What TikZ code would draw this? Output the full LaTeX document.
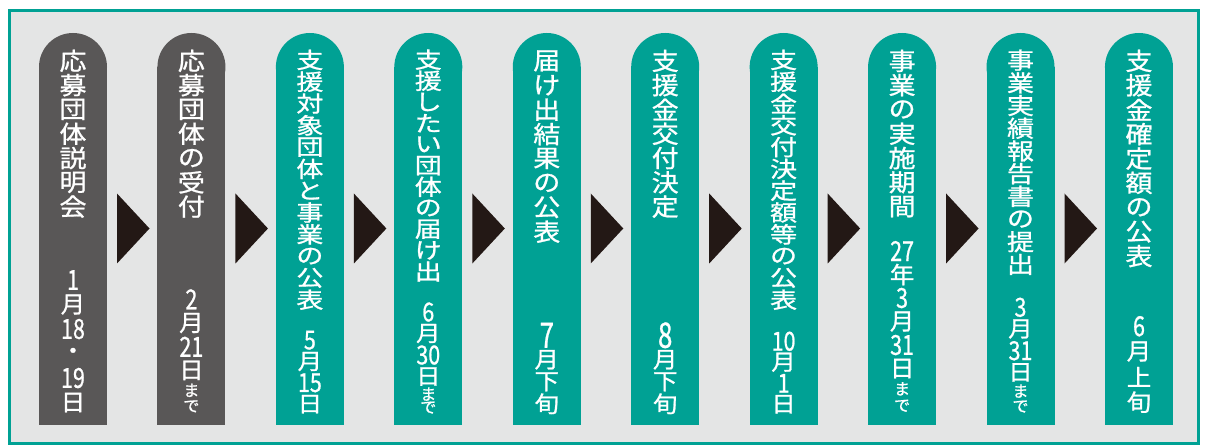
\documentclass[tikz,border=0pt]{standalone}
\usepackage{fontspec}
\usepackage{graphicx}
\newfontfamily\jp{Noto Sans CJK JP}[FakeBold=0.9]
\definecolor{cgray}{HTML}{595757}
\definecolor{cgreen}{HTML}{00A194}
\definecolor{cbg}{HTML}{E4E5E5}
\definecolor{carrow}{HTML}{231815}
\makeatletter
\newcommand\stk[3]{\def\stpitch{#1}\def\stys{#2}\@tfor\stx:=#3\do{\stcell{\stx}}}
\newcommand\stcell[1]{\hbox to 40pt{\hss\vbox to \stpitch pt{\vss\hbox{\scalebox{1}[\stys]{#1}}\vss}\hss}}
\makeatother
\newcommand\D[1]{\scalebox{0.74}[1]{\fontsize{29}{29}\selectfont #1}}
\newcommand\DL[1]{\scalebox{0.74}[1]{\fontsize{35}{35}\selectfont #1}}
\newcommand\SM{\fontsize{16}{16}\selectfont}
\newcommand\VB[1]{\vbox{\offinterlineskip #1}}
\tikzset{
  ttl/.style={inner sep=0pt, text=white, anchor=north, font=\jp\fontsize{27}{27}\selectfont},
  dte/.style={inner sep=0pt, text=white, anchor=south, font=\jp\fontsize{24.5}{24.5}\selectfont},
  arrowtri/.style={fill=carrow}
}
\begin{document}
\begin{tikzpicture}[x=1pt,y=-1pt]
\useasboundingbox (0,0) rectangle (1210,446);
\fill[white] (0,0) rectangle (1210,446);
\draw[cgreen, line width=3pt, fill=cbg] (9.7,11) rectangle (1198.3,443.3);
% columns
\foreach \i in {0,...,9}{
  \pgfmathsetmacro\xl{39+118.44*\i}
  \pgfmathsetmacro\xc{\xl+34}
  \pgfmathsetmacro\xr{\xl+68}
  \ifnum\i<2 \def\cc{cgray}\else\def\cc{cgreen}\fi
  \fill[\cc] (\xc,67) circle[radius=34pt];
  \fill[\cc] (\xl,67) rectangle (\xr,425);
}
% arrows
\foreach \i in {0,...,8}{
  \pgfmathsetmacro\xa{39+118.44*\i+78}
  \pgfmathsetmacro\xb{\xa+32.5}
  \fill[arrowtri] (\xa,193.5) -- (\xb,228.5) -- (\xa,263.5) -- cycle;
}
% titles
\node[ttl] (t1) at (73,48.5) {\VB{\stk{24.3}{0.9}{応募団体説明会}}};
\node[ttl] (t2) at (191.4,48.5) {\VB{\stk{24.3}{0.9}{応募団体の受付}}};
\node[ttl] (t3) at (309.9,48.8) {\VB{\stk{21.8}{0.82}{支援対象団体と事業の公表}}};
\node[ttl] (t4) at (428.3,48.8) {\VB{\stk{21.2}{0.82}{支援したい団体の届け出}}};
\node[ttl] (t5) at (546.8,48.5) {\VB{\stk{24.4}{0.9}{届け出結果の公表}}};
\node[ttl] (t6) at (665.2,48.5) {\VB{\stk{24.3}{0.9}{支援金交付決定}}};
\node[ttl] (t7) at (783.6,48.8) {\VB{\stk{21.8}{0.82}{支援金交付決定額等の公表}}};
\node[ttl] (t8) at (902.1,48.5) {\VB{\stk{24.3}{0.9}{事業の実施期間}}};
\node[ttl] (t9) at (1020.5,48.6) {\VB{\stk{22.7}{0.85}{事業実績報告書の提出}}};
\node[ttl] (t10) at (1139,48.5) {\VB{\stk{24.4}{0.9}{支援金確定額の公表}}};
% dates
\node[dte] (d1) at (73,415) {\VB{\stk{24.5}{0.95}{{\D1}月{\D{18}}・{\D{19}}日}}};
\node[dte] (d2) at (191.4,414.5) {\VB{\stk{23.7}{0.95}{{\D2}月{\D{21}}日}\stk{16}{1}{{\SM ま}{\SM で}}}};
\node[dte] (d3) at (309.9,415) {\VB{\stk{21.3}{0.9}{{\D5}月{\D{15}}日}}};
\node[dte] (d4) at (428.3,414.5) {\VB{\stk{21.5}{0.9}{{\D6}月{\D{30}}日}\stk{13.5}{1}{{\SM ま}{\SM で}}}};
\node[dte] (d5) at (546.8,415) {\VB{\stk{27}{1}{{\DL7}}\stk{22}{0.92}{月下旬}}};
\node[dte] (d6) at (665.2,415) {\VB{\stk{27}{1}{{\DL8}}\stk{22}{0.92}{月下旬}}};
\node[dte] (d7) at (783.6,415) {\VB{\stk{21}{0.9}{{\D{10}}月{\D1}日}}};
\node[dte] (d8) at (902.1,414.5) {\VB{\stk{23.5}{0.95}{{\D{27}}年{\D3}月{\D{31}}日}\stk{17}{1}{{\SM ま}{\SM で}}}};
\node[dte] (d9) at (1020.5,414.5) {\VB{\stk{21.7}{0.9}{{\D3}月{\D{31}}日}\stk{15.5}{1}{{\SM ま}{\SM で}}}};
\node[dte] (d10) at (1139,415) {\VB{\stk{25.3}{0.95}{{\D6}月上旬}}};
\end{tikzpicture}
\end{document}
